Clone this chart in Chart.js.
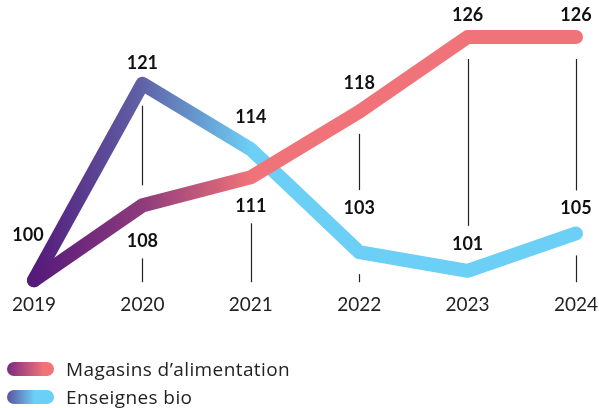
<!DOCTYPE html>
<html lang="fr">
<head>
<meta charset="utf-8">
<title>Magasins d’alimentation et enseignes bio</title>
<script src="https://cdn.jsdelivr.net/npm/chart.js@4.4.1/dist/chart.umd.min.js"></script>
<style>
  html, body { margin: 0; padding: 0; background: #fff; }
  #wrap { position: relative; width: 599px; height: 408px; }
  #legend { position: absolute; left: 7px; top: 355px; font-family: 'Open Sans', sans-serif; font-size: 19px; letter-spacing: 0.4px; color: #222; }
  .item { display: flex; align-items: center; height: 28px; }
  .pill { width: 47px; height: 14px; border-radius: 7px; margin-right: 12px; }
</style>
</head>
<body>
<div id="wrap">
  <canvas id="chart" width="599" height="408"></canvas>
  <div id="legend">
    <div class="item"><span class="pill" style="background: linear-gradient(90deg, #7a2b81, #f07379 78%);"></span>Magasins d’alimentation</div>
    <div class="item"><span class="pill" style="background: linear-gradient(90deg, #5b52a0, #6ccff5 58%);"></span>Enseignes bio</div>
  </div>
</div>
<script>
// Index base 100 en 2019
const years = ['2019', '2020', '2021', '2022', '2023', '2024'];
const magasins = [100, 108, 111, 118, 126, 126];
const bio = [100, 121, 114, 103, 101, 105];

// Label placement (pixel offset from the point, null = no label)
const magasinsLabelDy = [null, 36, 29, -29, -22, -22];
const bioLabelDy = [-45, -21, -32, -44, -27, -25];

// Horizontal gradient running from 2019 to 2021, solid after that
function lineGradient(ctx, stops) {
  const chart = ctx.chart;
  if (!chart.chartArea) return stops[stops.length - 1];
  const x = chart.scales.x;
  const x0 = x.getPixelForValue(0);
  const x1 = x.getPixelForValue(2);
  const g = chart.ctx.createLinearGradient(x0, 0, x1, 0);
  stops.forEach((c, i) => g.addColorStop(i / (stops.length - 1), c));
  return g;
}

// Value labels plus thin vertical connectors down to the axis
const annotations = {
  id: 'annotations',
  afterDatasetsDraw(chart) {
    const ctx = chart.ctx;
    const xs = chart.scales.x;
    const ys = chart.scales.y;
    const axisY = chart.chartArea.bottom + 2;
    const series = [
      { values: magasins, dy: magasinsLabelDy },
      { values: bio, dy: bioLabelDy }
    ];

    ctx.save();
    for (let i = 0; i < years.length; i++) {
      const px = xs.getPixelForValue(i);
      const items = [];
      series.forEach((s, k) => {
        const py = ys.getPixelForValue(s.values[i]);
        items.push({ y: py, top: py - 20, bottom: py + 22, owner: k });
        if (s.dy[i] !== null) {
          const ly = py + s.dy[i];
          items.push({ y: ly, top: ly - 18, bottom: ly + 17, owner: k, label: s.values[i], dx: i === 0 ? -6 : 0 });
        }
      });

      // connectors only between marks of different series, and to the axis
      if (i > 0) {
        items.sort((a, b) => a.y - b.y);
        items.push({ y: axisY, top: axisY, bottom: axisY, owner: -1 });
        ctx.strokeStyle = '#222';
        ctx.lineWidth = 1.2;
        for (let j = 0; j < items.length - 1; j++) {
          const a = items[j], b = items[j + 1];
          if (a.owner === b.owner) continue;
          if (b.top - a.bottom < 4) continue;
          ctx.beginPath();
          ctx.moveTo(Math.round(px) + 0.5, a.bottom);
          ctx.lineTo(Math.round(px) + 0.5, b.top);
          ctx.stroke();
        }
      }

      ctx.fillStyle = '#111';
      ctx.font = 'bold 18px Lato, sans-serif';
      ctx.textAlign = 'center';
      ctx.textBaseline = 'middle';
      items.forEach(it => {
        if (it.label !== undefined) ctx.fillText(String(it.label), px + it.dx, it.y);
      });
    }
    ctx.restore();
  }
};

new Chart(document.getElementById('chart'), {
  type: 'line',
  data: {
    labels: years,
    datasets: [
      {
        label: 'Magasins d’alimentation',
        data: magasins,
        borderColor: ctx => lineGradient(ctx, ['#561a7a', '#8e3b7c', '#f07379']),
        borderWidth: 14,
        borderCapStyle: 'round',
        borderJoinStyle: 'round',
        pointRadius: 0,
        tension: 0,
        clip: false
      },
      {
        label: 'Enseignes bio',
        data: bio,
        borderColor: ctx => lineGradient(ctx, ['#561a7a', '#5f62a6', '#6ccff5']),
        borderWidth: 14,
        borderCapStyle: 'round',
        borderJoinStyle: 'round',
        pointRadius: 0,
        tension: 0,
        clip: false
      }
    ]
  },
  options: {
    responsive: false,
    animation: false,
    events: [],
    layout: { padding: { top: 37, left: 34, right: 23, bottom: 79 } },
    plugins: {
      legend: { display: false },
      tooltip: { enabled: false }
    },
    scales: {
      x: {
        offset: false,
        grid: { display: false, drawTicks: false },
        border: { display: false },
        ticks: {
          color: '#222',
          padding: 13,
          maxRotation: 0,
          autoSkip: false,
          font: { family: 'Lato, sans-serif', size: 19 }
        },
        // let the first and last year labels overhang the plot edges
        afterFit(scale) {
          scale.paddingLeft = 0;
          scale.paddingRight = 0;
        }
      },
      y: {
        display: false,
        min: 100,
        max: 126
      }
    }
  },
  plugins: [annotations]
});
</script>
</body>
</html>
